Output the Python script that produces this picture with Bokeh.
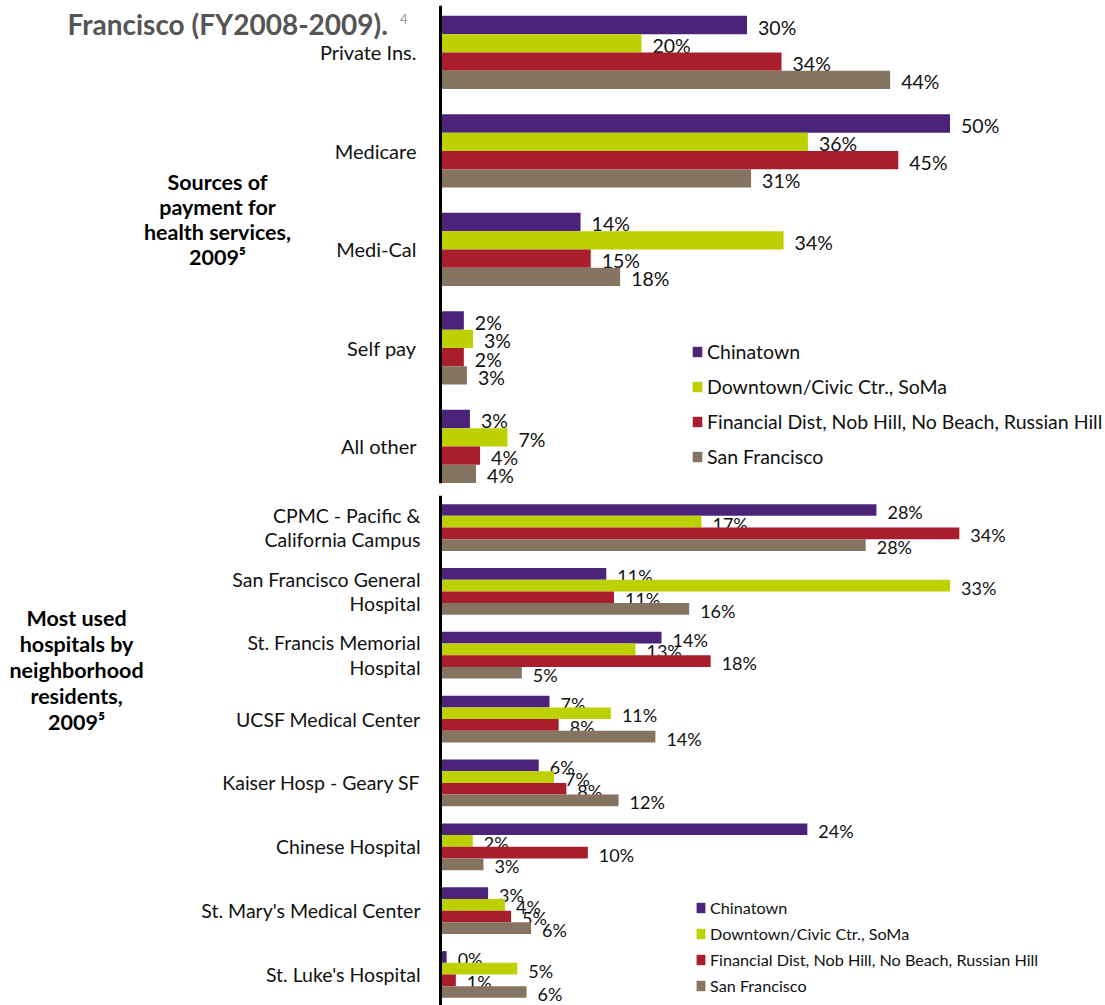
import numpy as np
from bokeh.plotting import figure
from bokeh.models import ColumnDataSource, Range1d, FixedTicker, Legend, LegendItem
from bokeh.layouts import column
from bokeh.embed import file_html
from bokeh.resources import INLINE
from bokeh.core.properties import value

# ---- data ----
series = ["Chinatown", "Downtown/Civic Ctr., SoMa",
          "Financial Dist, Nob Hill, No Beach, Russian Hill", "San Francisco"]
colors = ["#4B2479", "#BDD000", "#A81E2D", "#857462"]

pay_categories = ["Private Ins.", "Medicare", "Medi-Cal", "Self pay", "All other"]
pay_chinatown = [30.2, 50.2, 13.8, 2.3, 2.9]
pay_downtown = [19.8, 36.2, 33.8, 3.2, 6.6]
pay_financial = [33.6, 45.1, 14.8, 2.3, 3.9]
pay_sf = [44.3, 30.6, 17.7, 2.6, 3.5]

hosp_categories = ["CPMC - Pacific &\nCalifornia Campus", "San Francisco General\nHospital",
                   "St. Francis Memorial\nHospital", "UCSF Medical Center",
                   "Kaiser Hosp - Geary SF", "Chinese Hospital",
                   "St. Mary's Medical Center", "St. Luke's Hospital"]
hosp_chinatown = [28.4, 10.8, 14.4, 7.1, 6.4, 23.9, 3.1, 0.4]
hosp_downtown = [17.0, 33.2, 12.7, 11.1, 7.4, 2.1, 4.2, 5.0]
hosp_financial = [33.8, 11.3, 17.6, 7.7, 8.2, 9.6, 4.6, 1.0]
hosp_sf = [27.7, 16.2, 5.3, 14.0, 11.6, 2.8, 5.9, 5.6]

title_text = "Francisco (FY2008-2009)."
title_note = "4"
pay_group_label = "Sources of\npayment for\nhealth services,\n2009\u2075"
hosp_group_label = "Most used\nhospitals by\nneighborhood\nresidents,\n2009\u2075"

FONT = "Lato"


def panel(cats, vals_list, height, px_per_unit, y_start, y_end, bar_h,
          border_top, border_bottom, label_size, tick_size, standoff,
          leg_loc, leg_size, leg_glyph, leg_lh, leg_spacing):
    p = figure(width=1105, height=height,
               x_range=Range1d(-440 / px_per_unit, 665 / px_per_unit),
               y_range=Range1d(y_start, y_end),
               output_backend="svg", toolbar_location=None,
               x_axis_location=None,
               min_border_left=0, min_border_right=0,
               min_border_top=border_top, min_border_bottom=border_bottom)
    p.outline_line_color = None
    p.xgrid.visible = False
    p.ygrid.visible = False
    n = len(cats)
    idx = np.arange(n)
    items = []
    for j, (name, vals, col) in enumerate(zip(series, vals_list, colors)):
        off = (j - 1.5) * bar_h
        src = ColumnDataSource(dict(y=idx + off, right=vals,
                                    label=[f"{int(v + 0.5)}%" for v in vals]))
        r = p.hbar(y="y", left=0, right="right", height=bar_h, source=src,
                   fill_color=col, line_color=None)
        p.text(x="right", y="y", text="label", source=src, x_offset=11, y_offset=2,
               text_baseline="middle", text_align="left",
               text_font=value(FONT), text_font_size=label_size, text_color="#111111")
        items.append(LegendItem(label=name, renderers=[r]))
    ax = p.yaxis[0]
    ax.ticker = FixedTicker(ticks=list(range(n)))
    ax.major_label_overrides = {i: c for i, c in enumerate(cats)}
    ax.major_tick_line_color = None
    ax.minor_tick_line_color = None
    ax.axis_line_color = "black"
    ax.axis_line_width = 3
    ax.fixed_location = 0
    ax.major_label_standoff = standoff
    ax.major_label_text_font = FONT
    ax.major_label_text_font_size = tick_size
    ax.major_label_text_line_height = 1.07
    ax.major_label_text_color = "#111111"
    leg = Legend(items=items, location=leg_loc, orientation="vertical",
                 label_text_font=FONT, label_text_font_size=leg_size,
                 label_text_color="#111111",
                 glyph_width=leg_glyph[0], glyph_height=leg_glyph[1],
                 label_standoff=4, label_height=leg_lh, spacing=leg_spacing,
                 padding=0, margin=0, border_line_color=None,
                 background_fill_alpha=0)
    p.add_layout(leg)
    return p


p1 = panel(pay_categories, [pay_chinatown, pay_downtown, pay_financial, pay_sf],
           height=489, px_per_unit=10.15, y_start=4.376, y_end=-0.477, bar_h=0.186,
           border_top=5, border_bottom=6, label_size="19.5px", tick_size="20px",
           standoff=18, leg_loc=(691, 15), leg_size="19.5px", leg_glyph=(12, 13),
           leg_lh=22, leg_spacing=12)
p1.text(x=[-36.75], y=[-0.29], text=[title_text], text_baseline="middle",
        text_align="left", text_font=value(FONT), text_font_style="bold",
        text_font_size="28px", text_color="#555555")
p1.text(x=[-4.0], y=[-0.29], text=[title_note], text_baseline="middle",
        text_align="left", y_offset=-5, text_font=value(FONT),
        text_font_size="13px", text_color="#9a9a9a")
p1.text(x=[-21.97], y=[1.695], text=[pay_group_label], text_baseline="middle",
        text_align="center", text_font=value(FONT), text_font_style="bold",
        text_font_size="21.5px", text_color="#000000", text_line_height=0.96)

p2 = panel(hosp_categories, [hosp_chinatown, hosp_downtown, hosp_financial, hosp_sf],
           height=516, px_per_unit=15.35, y_start=7.486, y_end=-0.502, bar_h=0.183,
           border_top=6, border_bottom=0, label_size="18px", tick_size="19.5px",
           standoff=14, leg_loc=(695, 10), leg_size="16.2px", leg_glyph=(11, 13),
           leg_lh=19, leg_spacing=7)
p2.text(x=[-23.71], y=[2.226], text=[hosp_group_label], text_baseline="middle",
        text_align="center", text_font=value(FONT), text_font_style="bold",
        text_font_size="21.5px", text_color="#000000", text_line_height=1.0)

layout = column(p1, p2)
open("out.html", "w").write(file_html(layout, INLINE, "chart"))
